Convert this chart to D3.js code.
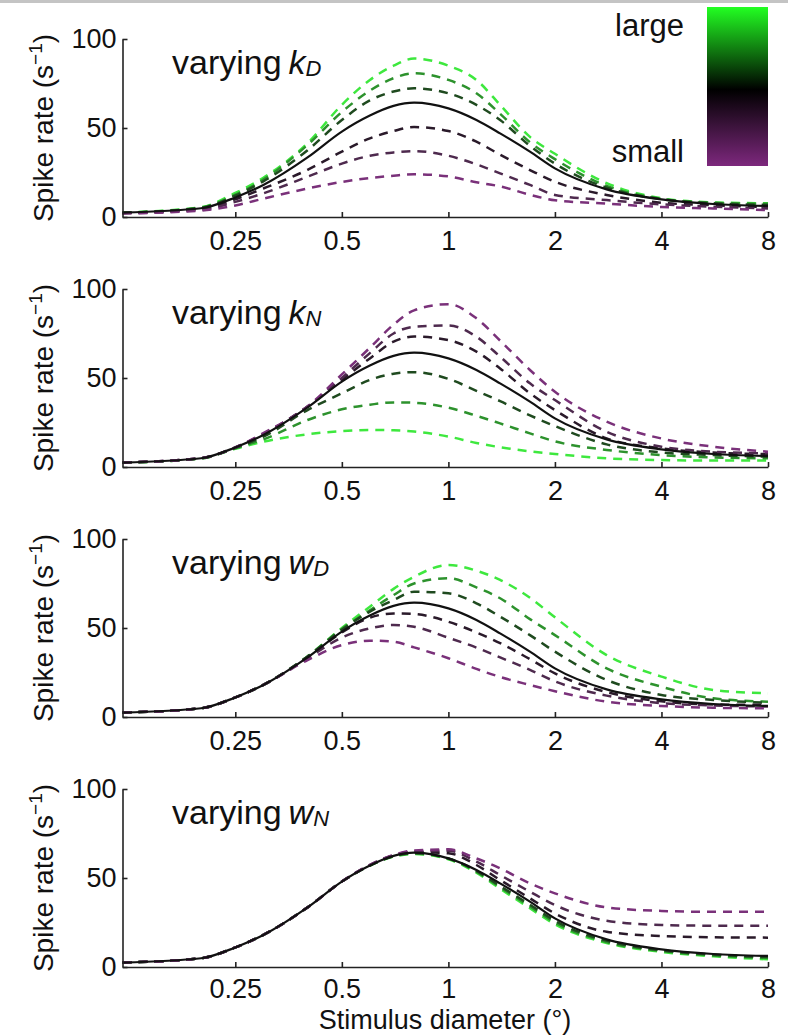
<!DOCTYPE html>
<html>
<head>
<meta charset="utf-8">
<script src="https://cdn.jsdelivr.net/npm/d3@7"></script>
<style>
	body { margin: 0; background: #fff; }
	svg text { font-family: "Liberation Sans", Arial, Helvetica, sans-serif; fill: #111; }
</style>
</head>
<body>
<div id="chart-area"></div>
<script>
/*
*    tuning curves - four panels, one parameter varied in each
*/

// stimulus diameters (deg) where the curves were read
var diameters = [0.12, 0.2, 0.25, 0.3, 0.4, 0.5, 0.6, 0.7, 0.8, 1, 1.2, 1.4, 1.7, 2, 2.8, 4, 5.6, 8]

// solid black reference curve, same in every panel
var reference = [2.5, 4.9, 11, 18, 33.5, 48, 57, 62.4, 64.2, 61, 54.5, 47, 36.7, 27.3, 15.5, 9.9, 7.3, 6.2]

// dashed curves, ordered from "large" (green) to "small" (purple)
var kDRates = [
	[2.5, 5.5, 13.5, 22, 41.5, 63, 77, 85, 89, 85, 77, 63, 45, 35.5, 19, 10.5, 8.2, 7.7],
	[2.4, 5.3, 12.5, 21, 40.5, 59, 71, 78, 80.7, 77, 69.5, 58, 42, 32.5, 17.5, 10.2, 8, 7.4],
	[2.3, 5.1, 12, 20, 37.5, 54.5, 65.5, 70.5, 72.3, 69.5, 63, 54.5, 40, 30, 16.5, 10, 7.7, 6.8],
	[2.2, 4.5, 10, 16, 26.5, 36.7, 44.2, 48.3, 50.5, 48.3, 42.3, 35, 26.4, 19.8, 12.4, 8, 6.6, 5.6],
	[2.1, 4, 8.5, 13.3, 22.6, 30, 34.4, 36.3, 37, 34.4, 29.6, 24.5, 18, 12.4, 9.5, 7.1, 5.8, 4.8],
	[2, 3.6, 6.5, 10.3, 16, 19.7, 21.9, 23.2, 24, 22.8, 19.5, 17.2, 12.5, 9.4, 7.5, 5.6, 4.8, 3.9]
]
var kNRates = [
	[2.4, 4.8, 10.2, 14.2, 18.4, 20.2, 20.8, 20.6, 19.9, 17.1, 13.5, 11.1, 8.8, 7.3, 4.9, 3.9, 3.6, 3.6],
	[2.4, 4.8, 10.5, 15.5, 26.4, 32.4, 35, 36.3, 36.1, 33.3, 28.8, 24.5, 18.9, 14.4, 9.6, 6.7, 5.4, 4.9],
	[2.5, 4.9, 10.8, 17, 32, 41.4, 48.9, 52.4, 53.3, 49.5, 42.8, 37, 29, 23, 12.7, 8.2, 6.7, 5.8],
	[2.5, 5, 11, 18.5, 34, 49, 61, 70.4, 73.3, 71.3, 64.8, 55.4, 41.4, 32, 16.1, 10.5, 8.1, 7.3],
	[2.5, 5, 11, 18.5, 34, 50, 64, 75, 78.8, 79.5, 73.2, 62, 47, 37.6, 19.8, 11.4, 8.6, 7.7],
	[2.5, 5, 11, 19, 34, 52, 67, 80, 88, 91.5, 83.5, 71, 54.5, 42.3, 25.5, 16, 11.4, 8.6]
]
var wDRates = [
	[2.5, 4.9, 11, 18, 34, 50, 62, 72, 78.8, 85.4, 82.2, 77, 67, 56, 34.8, 22.7, 15.2, 13.3],
	[2.5, 4.9, 11, 18, 34, 49.5, 60, 68.5, 75, 78, 72.8, 66.7, 55, 46, 27.3, 17, 10.5, 8.6],
	[2.5, 4.9, 11, 18, 34, 49, 59.2, 65.7, 70.4, 69.5, 63.9, 56.4, 46, 36.7, 20.8, 12.4, 9.6, 8],
	[2.5, 4.9, 11, 18, 33.5, 47.5, 55.8, 58.2, 57.9, 53.5, 47.5, 41.5, 32.5, 24.5, 14, 8.8, 7, 6.8],
	[2.5, 4.9, 11, 18, 33, 44.6, 49.8, 51.7, 50.7, 44.5, 39, 33.5, 26.5, 20, 12, 7.8, 6.5, 5.9],
	[2.5, 4.9, 11, 18, 32, 40.4, 42.9, 42.3, 39.1, 33, 27, 22.5, 18, 14.5, 8.6, 6.2, 5.2, 4.9]
]
var wNRates = [
	[2.5, 4.9, 11, 18, 33.5, 48, 57, 62, 63.5, 60.5, 53, 44, 33, 24, 13.5, 8.5, 6, 4.3],
	[2.5, 4.9, 11, 18, 33.5, 48, 57, 62.2, 63.8, 60.8, 53.5, 44.8, 34, 25, 14, 9, 6.5, 5],
	[2.5, 4.9, 11, 18, 33.5, 48, 57, 62.3, 64, 61, 54, 45.5, 35, 26, 14.8, 9.4, 7, 5.6],
	[2.5, 4.9, 11, 18, 33.5, 48, 57.2, 62.6, 64.5, 63.9, 57.3, 48.9, 38.6, 30.1, 19.8, 17.4, 16.7, 16.5],
	[2.5, 4.9, 11, 18, 33.5, 48, 57.3, 62.8, 65, 65.3, 59.2, 51.7, 42.3, 34.8, 26, 23.6, 23.2, 23.2],
	[2.5, 4.9, 11, 18, 33.5, 48, 57.4, 63, 65.5, 66.1, 61, 55.4, 47, 41.4, 33.5, 31.5, 31, 31]
]

var panelSymbols = ["k", "k", "w", "w"]
var panelSubscripts = ["D", "N", "D", "N"]
var lineColors = ["#3ee83e", "#2d922d", "#1f4a1f", "#2a1a2a", "#4e2a4e", "#7a317a"]
var xTicks = [0.25, 0.5, 1, 2, 4, 8]
var yTicks = [0, 50, 100]
var legendLabels = ["large", "small"]

var width = 788, height = 1035
var panelTop = 39, panelStep = 250, panelHeight = 178

var svg = d3.select("#chart-area")
	.append("svg")
		.attr("width", width)
		.attr("height", height)

// thin grey strip along the top edge
svg.append("rect")
	.attr("x", 0).attr("y", 0)
	.attr("width", width).attr("height", 3)
	.attr("fill", "#c4c4c4")

// scales
var x = d3.scaleLog()
	.base(2)
	.domain([0.12, 8])
	.range([122.5, 768])
var y = d3.scaleLinear()
	.domain([0, 100])
	.range([panelHeight, 0])

var line = d3.line()
	.x((d, i) => x(diameters[i]))
	.y(d => y(d))
	.curve(d3.curveMonotoneX)

var panelRates = [kDRates, kNRates, wDRates, wNRates]

panelRates.forEach((rates, p) => {
	var g = svg.append("g")
		.attr("transform", "translate(0," + (panelTop + p * panelStep) + ")")

	// dashed curves first, reference on top
	rates.forEach((r, i) => {
		g.append("path")
			.attr("d", line(r))
			.attr("fill", "none")
			.attr("stroke", lineColors[i])
			.attr("stroke-width", 2.5)
			.attr("stroke-dasharray", "9,7")
	})
	g.append("path")
		.attr("d", line(reference))
		.attr("fill", "none")
		.attr("stroke", "#111")
		.attr("stroke-width", 2.2)

	// x axis (bottom panel labels sit a bit higher, above the axis title)
	var xAxisCall = d3.axisBottom(x)
		.tickValues(xTicks)
		.tickFormat(d3.format("~g"))
		.tickSize(-5)
		.tickSizeOuter(0)
		.tickPadding(p == 3 ? 12 : 14)
	g.append("g")
		.attr("class", "x axis")
		.attr("transform", "translate(0," + panelHeight + ")")
		.call(xAxisCall)
		.attr("font-size", 27)
		.attr("font-family", null)
		.attr("color", "#222")

	// y axis
	var yAxisCall = d3.axisLeft(y)
		.tickValues(yTicks)
		.tickSize(-5)
		.tickSizeOuter(0)
		.tickPadding(6)
	g.append("g")
		.attr("class", "y axis")
		.attr("transform", "translate(122.5,0)")
		.call(yAxisCall)
		.attr("font-size", 27)
		.attr("font-family", null)
		.attr("color", "#222")

	g.selectAll(".axis path, .axis line").attr("stroke-width", 1.6)

	// y label
	var yLabel = g.append("text")
		.attr("transform", "translate(53," + (panelHeight / 2) + ") rotate(-90)")
		.attr("text-anchor", "middle")
		.attr("font-size", 28)
	yLabel.append("tspan").text("Spike rate (s")
	yLabel.append("tspan").attr("font-size", 19).attr("dy", -11).text("\u22121")
	yLabel.append("tspan").attr("dy", 11).text(")")

	// panel title
	var title = g.append("text")
		.attr("x", 172)
		.attr("y", 35)
		.attr("font-size", 34)
	title.append("tspan").text("varying")
	title.append("tspan").attr("dx", 7).attr("font-style", "italic").text(panelSymbols[p])
	title.append("tspan").attr("dy", 2).attr("font-size", 22).attr("font-style", "italic").text(panelSubscripts[p])
})

// x label
svg.append("text")
	.attr("x", 445)
	.attr("y", 1029)
	.attr("text-anchor", "middle")
	.attr("font-size", 27)
	.text("Stimulus diameter (\u00b0)")

// colour bar legend
var grad = svg.append("defs").append("linearGradient")
	.attr("id", "bar")
	.attr("x1", 0).attr("y1", 0)
	.attr("x2", 0).attr("y2", 1)
grad.append("stop").attr("offset", "0%").attr("stop-color", "#22ff22")
grad.append("stop").attr("offset", "52%").attr("stop-color", "#000000")
grad.append("stop").attr("offset", "100%").attr("stop-color", "#7d287d")

svg.append("rect")
	.attr("x", 707).attr("y", 7)
	.attr("width", 61).attr("height", 159)
	.attr("fill", "url(#bar)")

legendLabels.forEach((label, i) => {
	svg.append("text")
		.attr("x", 684)
		.attr("y", i == 0 ? 36 : 162)
		.attr("text-anchor", "end")
		.attr("font-size", 31)
		.text(label)
})
</script>
</body>
</html>
